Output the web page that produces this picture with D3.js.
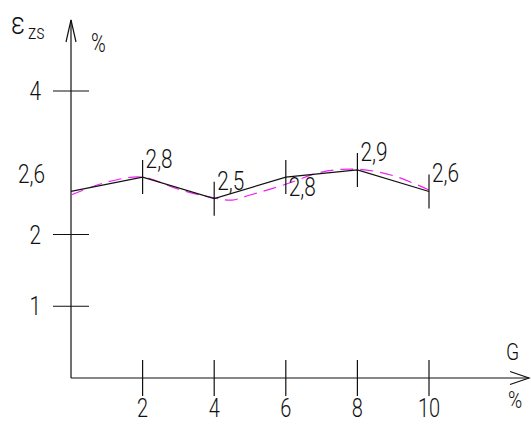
<!DOCTYPE html>
<html>
<head>
<meta charset="utf-8">
<script src="https://cdn.jsdelivr.net/npm/d3@7"></script>
<style>
  html, body { margin: 0; padding: 0; background: #fff; }
  svg { display: block; }
  text { font-family: Roboto, "Liberation Sans", sans-serif; font-weight: 300; fill: #111; }
</style>
</head>
<body>
<svg id="chart" width="531" height="425"></svg>
<script>
// Measured strain values (polyline with value labels)
const gValues = [0, 2, 4, 6, 8, 10];
const strainValues = [2.6, 2.8, 2.5, 2.8, 2.9, 2.6];
const strainLabels = ["2,6", "2,8", "2,5", "2,8", "2,9", "2,6"];
// Points whose label sits under the line
const labelBelow = [false, false, false, true, false, false];

// Smoothed trend curve (dashed)
const trendG = [0, 1, 2, 3, 4, 4.5, 5, 6, 7, 8, 9, 10];
const trendValues = [2.55, 2.73, 2.80, 2.63, 2.51, 2.48, 2.55, 2.70, 2.87, 2.91, 2.82, 2.62];

// Axis ticks
const xTicks = [2, 4, 6, 8, 10];
const xTickLabels = ["2", "4", "6", "8", "10"];
const yTicks = [1, 2, 4];
const yTickLabels = ["1", "2", "4"];

const svg = d3.select("#chart");
const x = d3.scaleLinear().domain([0, 10]).range([71, 429]);
const y = d3.scaleLinear().domain([0, 4]).range([378, 91]);

const ink = "#111";
const squeeze = 0.8;   // narrow drafting-style lettering

function label(txt, px, py, anchor, size) {
  const g = svg.append("g").attr("transform", `translate(${px},${py}) scale(${squeeze},1)`);
  g.append("text").attr("text-anchor", anchor || "start")
    .style("font-size", (size || 26) + "px").text(txt);
  return g;
}

// Axes lines with open arrowheads
const axes = svg.append("g").attr("stroke", ink).attr("stroke-width", 1.2).attr("fill", "none");
axes.append("line").attr("x1", x(0)).attr("y1", y(0)).attr("x2", x(0)).attr("y2", 20);
axes.append("polyline").attr("points", `${x(0) - 5},42 ${x(0)},20 ${x(0) + 5},42`);
axes.append("line").attr("x1", x(0)).attr("y1", y(0)).attr("x2", 529).attr("y2", y(0));
axes.append("polyline").attr("points", `510,${y(0) - 6.5} 529,${y(0)} 510,${y(0) + 6.5}`);

// X ticks: cross marks centred on the axis
const xt = svg.append("g").attr("stroke", ink).attr("stroke-width", 1.2);
xTicks.forEach(v => {
  xt.append("line").attr("x1", x(v)).attr("x2", x(v)).attr("y1", y(0) - 18).attr("y2", y(0) + 18);
});
xTicks.forEach((v, i) => label(xTickLabels[i], x(v), 417, "middle", 25));

// Y ticks
yTicks.forEach(v => {
  xt.append("line").attr("x1", x(0) - 18).attr("x2", x(0) + 18).attr("y1", y(v)).attr("y2", y(v));
});
yTicks.forEach((v, i) => label(yTickLabels[i], 41, y(v) + 9, "end"));

// Dashed smoothed curve
const trendLine = d3.line().x(d => x(d[0])).y(d => y(d[1])).curve(d3.curveCatmullRom.alpha(0.5));
svg.append("path")
  .datum(trendG.map((g, i) => [g, trendValues[i]]))
  .attr("d", trendLine)
  .attr("fill", "none").attr("stroke", "#f020f0").attr("stroke-width", 1.2)
  .attr("stroke-dasharray", "13,7");

// Measured polyline
const line = d3.line().x(d => x(d[0])).y(d => y(d[1]));
svg.append("path")
  .datum(gValues.map((g, i) => [g, strainValues[i]]))
  .attr("d", line)
  .attr("fill", "none").attr("stroke", ink).attr("stroke-width", 1.2);

// Vertical markers at each measured point (except on the axis)
gValues.forEach((g, i) => {
  if (g === 0) return;
  svg.append("line").attr("stroke", ink).attr("stroke-width", 1.2)
    .attr("x1", x(g)).attr("x2", x(g))
    .attr("y1", y(strainValues[i]) - 17).attr("y2", y(strainValues[i]) + 17);
});

// Value labels
gValues.forEach((g, i) => {
  const py = y(strainValues[i]);
  if (g === 0) {
    label(strainLabels[i], 18, py - 8, "start");
  } else {
    label(strainLabels[i], x(g) + 3, labelBelow[i] ? py + 19 : py - 9, "start");
  }
});

// Axis titles
label("\u03B5", 11, 34, "start", 32);
label("zs", 28, 39, "start", 21);
label("%", 91, 52, "start", 25);
label("G", 506, 360, "start", 24);
label("%", 508, 408, "start", 24);
</script>
</body>
</html>
